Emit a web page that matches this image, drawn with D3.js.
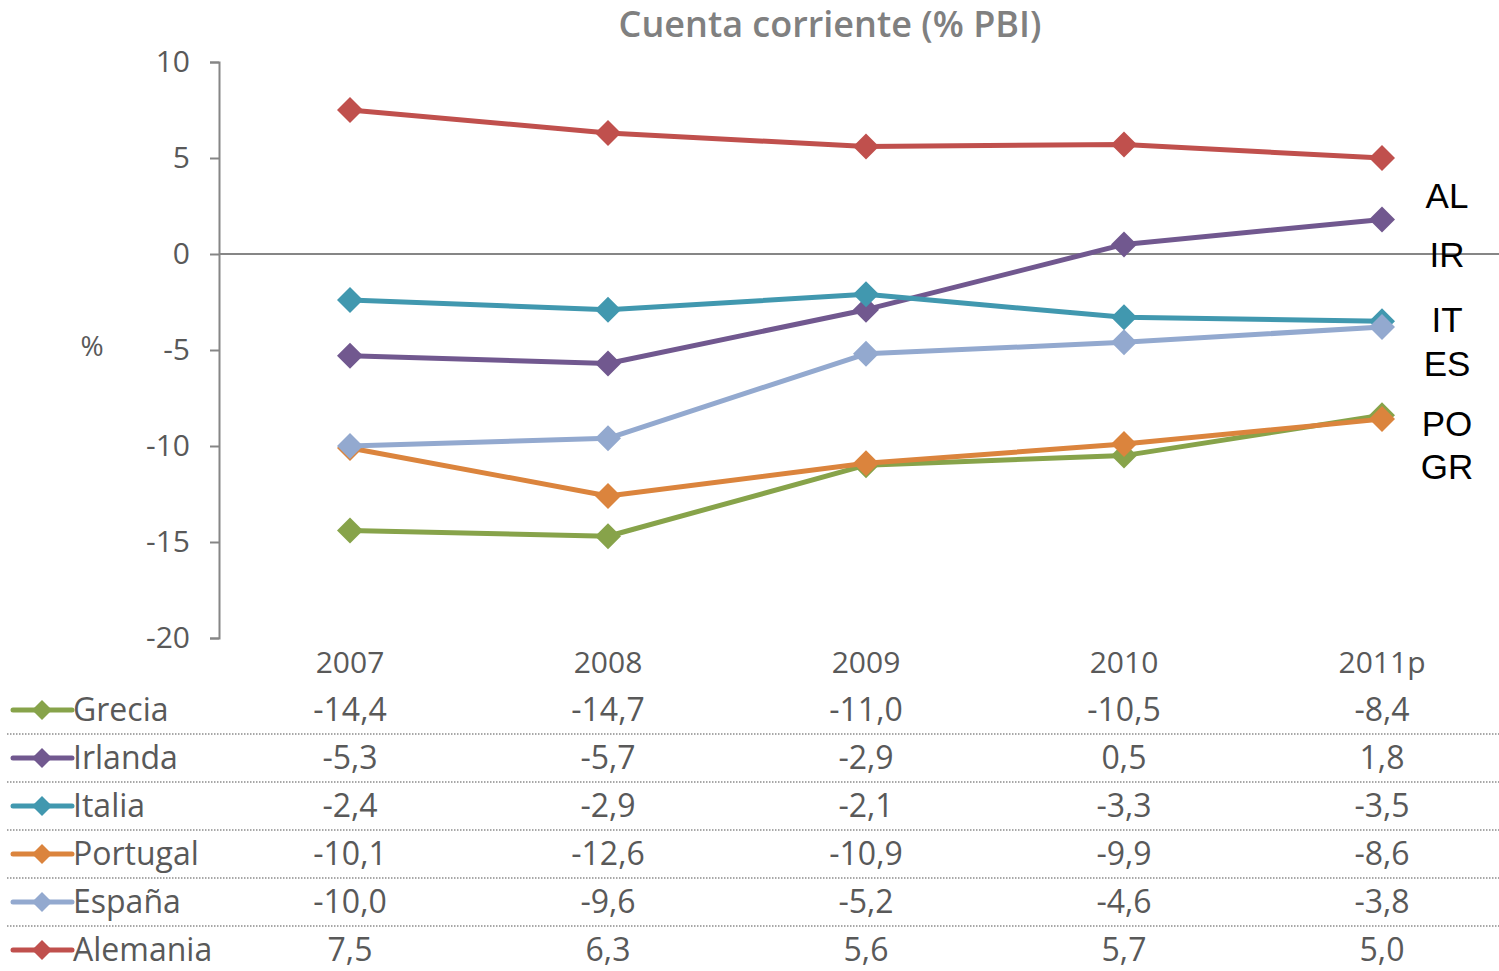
<!DOCTYPE html>
<html lang="es">
<head>
<meta charset="utf-8">
<title>Cuenta corriente (% PBI)</title>
<script src="https://cdn.jsdelivr.net/npm/d3@7"></script>
<style>
  body { margin: 0; background: #fff; }
  svg { display: block; }
</style>
</head>
<body>
<script>
// datos
var years = ["2007", "2008", "2009", "2010", "2011p"];
var countries = ["Grecia", "Irlanda", "Italia", "Portugal", "España", "Alemania"];
var codes = ["GR", "IR", "IT", "PO", "ES", "AL"];
var colors = ["#87a34a", "#71588f", "#4198af", "#db843d", "#93a9cf", "#c0504d"];
var grecia   = [-14.4, -14.7, -11.0, -10.5, -8.4];
var irlanda  = [-5.3, -5.7, -2.9, 0.5, 1.8];
var italia   = [-2.4, -2.9, -2.1, -3.3, -3.5];
var portugal = [-10.1, -12.6, -10.9, -9.9, -8.6];
var espana   = [-10.0, -9.6, -5.2, -4.6, -3.8];
var alemania = [7.5, 6.3, 5.6, 5.7, 5.0];
var yTicks = [10, 5, 0, -5, -10, -15, -20];

var series = [grecia, irlanda, italia, portugal, espana, alemania];

var W = 1499, H = 971;
var font = "'Open Sans', 'DejaVu Sans', sans-serif";

var svg = d3.select("body").append("svg")
  .attr("width", W).attr("height", H);

var x = d3.scaleBand().domain(years).range([221, 1511]);
var y = d3.scaleLinear().domain([-20, 10]).range([638, 62]);
var cx = function(i){ return x(years[i]) + x.bandwidth() / 2; };

// título
svg.append("text")
  .attr("x", 830).attr("y", 37)
  .attr("text-anchor", "middle")
  .style("font-family", font).style("font-weight", 600)
  .style("font-size", "36px").style("fill", "#808080")
  .text("Cuenta corriente (% PBI)");

// eje y
var yAxis = svg.append("g")
  .attr("transform", "translate(219,0)")
  .call(d3.axisLeft(y).tickValues(yTicks).tickSize(9).tickPadding(20)
    .tickFormat(function(d){ return String(d); }));
yAxis.select(".domain").attr("stroke", "#868686").attr("stroke-width", 2);
yAxis.selectAll(".tick line").attr("stroke", "#868686").attr("stroke-width", 2);
yAxis.selectAll(".tick text")
  .style("font-family", font).style("font-size", "30px").style("fill", "#595959");

// línea del cero
svg.append("line")
  .attr("x1", 219).attr("x2", W)
  .attr("y1", y(0)).attr("y2", y(0))
  .attr("stroke", "#868686").attr("stroke-width", 2);

svg.append("text")
  .attr("x", 92).attr("y", 356)
  .attr("text-anchor", "middle")
  .style("font-family", font).style("font-size", "28px").style("fill", "#595959")
  .text("%");

// años
svg.selectAll(".year").data(years).enter().append("text")
  .attr("x", function(d){ return x(d) + x.bandwidth() / 2; })
  .attr("y", 673)
  .attr("text-anchor", "middle")
  .style("font-family", font).style("font-size", "30px").style("fill", "#595959")
  .text(function(d){ return d; });

var diamond = function(r){ return "M0," + (-r) + "L" + r + ",0L0," + r + "L" + (-r) + ",0Z"; };

var line = d3.line()
  .x(function(d, i){ return cx(i); })
  .y(function(d){ return y(d); });

// series
series.forEach(function(s, k){
  var g = svg.append("g");
  g.append("path").datum(s)
    .attr("d", line)
    .attr("fill", "none")
    .attr("stroke", colors[k]).attr("stroke-width", 5)
    .attr("stroke-linejoin", "round");
  g.selectAll("path.m").data(s).enter().append("path")
    .attr("class", "m")
    .attr("d", diamond(13))
    .attr("transform", function(d, i){ return "translate(" + cx(i) + "," + y(d) + ")"; })
    .attr("fill", colors[k]);
});

// etiquetas de la derecha
var labelY = { AL: 196, IR: 255, IT: 320, ES: 364, PO: 424, GR: 467 };
codes.forEach(function(c){
  svg.append("text")
    .attr("x", 1447).attr("y", labelY[c] + 12)
    .attr("text-anchor", "middle")
    .style("font-family", "'Liberation Sans', Arial, sans-serif")
    .style("font-size", "35px").style("fill", "#000")
    .text(c);
});

// tabla de datos
var rowY = function(k){ return 710 + k * 48; };
countries.forEach(function(name, k){
  var ry = rowY(k);
  svg.append("line")
    .attr("x1", 13).attr("x2", 72).attr("y1", ry).attr("y2", ry)
    .attr("stroke", colors[k]).attr("stroke-width", 5).attr("stroke-linecap", "round");
  svg.append("path")
    .attr("d", diamond(10))
    .attr("transform", "translate(42," + ry + ")")
    .attr("fill", colors[k]);
  svg.append("text")
    .attr("x", 73).attr("y", ry + 11)
    .style("font-family", font).style("font-size", "32px").style("fill", "#595959")
    .text(name);
  svg.selectAll(null).data(series[k]).enter().append("text")
    .attr("x", function(d, i){ return cx(i); })
    .attr("y", ry + 11)
    .attr("text-anchor", "middle")
    .style("font-family", font).style("font-size", "32px").style("fill", "#595959")
    .text(function(d){ return d3.format(".1f")(d).replace(".", ",").replace("−", "-"); });
  if (k < countries.length - 1) {
    svg.append("line")
      .attr("x1", 7).attr("x2", W)
      .attr("y1", ry + 24).attr("y2", ry + 24)
      .attr("stroke", "#8c8c8c").attr("stroke-width", 1.5)
      .attr("stroke-dasharray", "1.5,1.5");
  }
});
</script>
</body>
</html>
